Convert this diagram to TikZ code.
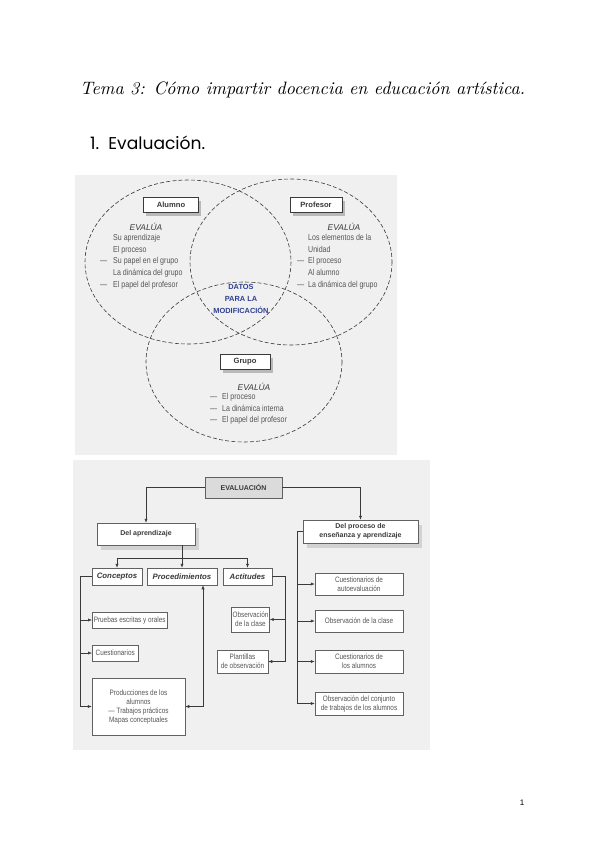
\documentclass[tikz,border=0pt]{standalone}
\usepackage{fontspec}
\usepackage{graphicx}
\newfontfamily\sansf{Liberation Sans}
\newfontfamily\narrow[FakeStretch=0.82]{Liberation Sans}
\newfontfamily\roundf{Poppins}
\usetikzlibrary{shadows,arrows.meta}
\definecolor{scan}{HTML}{F0F0F0}
\definecolor{ink}{HTML}{3A3A3A}
\definecolor{faint}{HTML}{555555}
\definecolor{datos}{HTML}{2E3F8F}
\tikzset{
  circ/.style={draw=ink, line width=0.6pt, dash pattern=on 4pt off 2.2pt},
  ubox/.style={draw=ink, fill=white, line width=0.5pt, inner sep=1pt,
    font=\sansf\bfseries\fontsize{7.6}{8}\selectfont, text=ink,
    drop shadow={shadow xshift=2.5pt, shadow yshift=-3pt, fill=gray!55, opacity=1}},
  evtext/.style={font=\sansf\itshape\fontsize{8.4}{9}\selectfont, text=ink, inner sep=0},
  listtext/.style={font=\narrow\fontsize{8.6}{11.75}\selectfont, text=faint, align=left, inner sep=0, anchor=north west},
  lbox/.style={draw=ink!80, fill=white, line width=0.5pt, inner sep=1.5pt, align=center,
    font=\narrow\fontsize{7.8}{9}\selectfont, text=faint},
  hbox/.style={lbox, font=\sansf\bfseries\fontsize{7}{8.8}\selectfont, text=ink,
    drop shadow={shadow xshift=4pt, shadow yshift=-5pt, fill=gray!35, opacity=1}},
  ibox/.style={lbox, inner sep=1pt, font=\sansf\bfseries\itshape\fontsize{7.8}{8.5}\selectfont, text=ink},
  conn/.style={draw=ink, line width=0.6pt},
  arr/.style={conn, -{Latex[length=4pt,width=3.2pt]}},
}
\begin{document}
\begin{tikzpicture}[x=1pt,y=-1pt]
\useasboundingbox (0,0) rectangle (600,848);
\fill[white] (0,0) rectangle (600,848);

% titles
\node[anchor=west, inner sep=0] (title) at (80,90)
  {\resizebox{445pt}{!}{\itshape Tema 3: Cómo impartir docencia en educación artística.}};
\node[anchor=west, inner sep=0] (sec) at (90,143)
  {\resizebox{115pt}{!}{\roundf 1.\ \ Evaluación.}};

% ---------- upper scan ----------
\fill[scan] (75,175) rectangle (397,455);
\draw[circ] (188,262) ellipse [x radius=103, y radius=82];
\draw[circ] (291,262) ellipse [x radius=101, y radius=83];
\draw[circ] (244,362) ellipse [x radius=98, y radius=80];

\node[ubox, minimum width=55pt, minimum height=15pt] (alumno) at (171,205) {Alumno};
\node[ubox, minimum width=52pt, minimum height=15pt] (profesor) at (316,205) {Profesor};
\node[ubox, minimum width=50pt, minimum height=15pt] (grupo) at (245,362) {Grupo};

\node[evtext] (ev1) at (146,227) {EVALÚA};
\node[evtext] (ev2) at (344,227) {EVALÚA};
\node[evtext] (ev3) at (254,387) {EVALÚA};

\node[listtext] (l1) at (100,234) {%
  \makebox[13pt][l]{}Su aprendizaje\\
  \makebox[13pt][l]{}El proceso\\
  \makebox[13pt][l]{—}Su papel en el grupo\\
  \makebox[13pt][l]{}La dinámica del grupo\\
  \makebox[13pt][l]{—}El papel del profesor};
\node[listtext] (l2) at (297,234) {%
  \makebox[11pt][l]{}Los elementos de la\\
  \makebox[11pt][l]{}Unidad\\
  \makebox[11pt][l]{—}El proceso\\
  \makebox[11pt][l]{}Al alumno\\
  \makebox[11pt][l]{—}La dinámica del grupo};
\node[listtext] (l3) at (210,393) {%
  \makebox[12pt][l]{—}El proceso\\
  \makebox[12pt][l]{—}La dinámica interna\\
  \makebox[12pt][l]{—}El papel del profesor};

\node[align=center, inner sep=0, text=datos,
  font=\sansf\bfseries\fontsize{7.4}{12}\selectfont] (datos) at (241,299)
  {DATOS\\PARA LA\\MODIFICACIÓN};

% ---------- lower scan ----------
\fill[scan] (73,460) rectangle (430,750);

\node[lbox, fill=gray!28, font=\sansf\bfseries\fontsize{7}{8.5}\selectfont, text=ink,
  minimum width=77pt, minimum height=21pt] (eval) at (243.5,487.5) {EVALUACIÓN};
\node[hbox, minimum width=98pt, minimum height=22pt] (apr) at (146,534) {Del aprendizaje};
\node[hbox, minimum width=115pt, minimum height=23pt] (proc) at (360.5,531.5)
  {Del proceso de\\enseñanza y aprendizaje};

\node[ibox, minimum width=50pt, minimum height=17pt] (conc) at (117,576.5) {Conceptos};
\node[ibox, minimum width=70pt, minimum height=17pt] (procd) at (182,576.5) {Procedimientos};
\node[ibox, minimum width=49pt, minimum height=17pt] (acti) at (247.5,576.5) {Actitudes};

\node[lbox, minimum width=70pt, minimum height=16pt, anchor=west] (pruebas) at (92,620) {Pruebas escritas y orales};
\node[lbox, minimum width=46pt, minimum height=16pt, anchor=west] (cuest) at (92,653) {Cuestionarios};
\node[lbox, minimum width=93pt, minimum height=57pt] (produc) at (138.5,706.5)
  {Producciones de los\\alumnos\\— Trabajos prácticos\\Mapas conceptuales};

\node[lbox, minimum width=35pt, minimum height=25pt, inner sep=1pt] (obsa) at (250.5,619.5) {Observación\\de la clase};
\node[lbox, minimum width=51pt, minimum height=23pt] (plant) at (242.5,661.5) {Plantillas\\de observación};

\node[lbox, minimum width=88pt, minimum height=22pt] (cauto) at (359,584) {Cuestionarios de\\autoevaluación};
\node[lbox, minimum width=88pt, minimum height=22pt] (obsb) at (359,621) {Observación de la clase};
\node[lbox, minimum width=88pt, minimum height=23pt] (calum) at (359,661.5) {Cuestionarios de\\los alumnos};
\node[lbox, minimum width=88pt, minimum height=23pt, inner sep=1pt] (obsc) at (359,703.5)
  {Observación del conjunto\\de trabajos de los alumnos};

% connectors
\draw[arr] (eval.west) -| (apr.north);
\draw[arr] (eval.east) -| (proc.north);

\coordinate (a1) at (apr.south -| procd.north);
\coordinate (a2) at (182,558);
\draw[arr] (a1) -- (procd.north);
\draw[arr] (a2) -| (conc.north);
\draw[arr] (a2) -| (acti.north);

\coordinate (lb) at (80,706.5);
\draw[conn] (conc.west) -| (lb);
\draw[arr] (pruebas.west -| lb) -- (pruebas.west);
\draw[arr] (cuest.west -| lb) -- (cuest.west);
\draw[arr] (lb) -- (produc.west);

\coordinate (pb) at (203,706.5);
\draw[arr] (pb) -- (pb |- procd.south);
\draw[arr] (pb) -- (produc.east);

\coordinate (ab) at (285,661.5);
\draw[conn] (acti.east) -| (ab);
\draw[arr] (obsa.east -| ab) -- (obsa.east);
\draw[arr] (ab) -- (plant.east);

\coordinate (rb) at (297,703.5);
\draw[conn] (proc.west) -| (rb);
\draw[arr] (cauto.west -| rb) -- (cauto.west);
\draw[arr] (obsb.west -| rb) -- (obsb.west);
\draw[arr] (calum.west -| rb) -- (calum.west);
\draw[arr] (rb) -- (obsc.west);

\node[inner sep=0, font=\sansf\fontsize{8}{9}\selectfont] (pnum) at (522,803) {1};
\end{tikzpicture}
\end{document}
